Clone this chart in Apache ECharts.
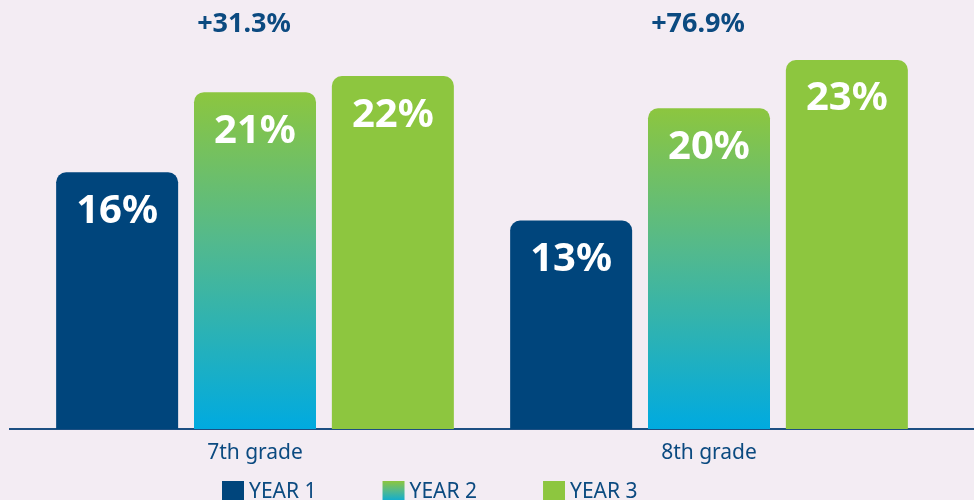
<!DOCTYPE html>
<html>
<head>
<meta charset="utf-8">
<script src="https://cdn.jsdelivr.net/npm/echarts@6/dist/echarts.min.js"></script>
<style>
  html, body { margin: 0; padding: 0; background: #f3ecf3; }
  #main { width: 974px; height: 500px; }
</style>
</head>
<body>
<div id="main"></div>
<script>
    // data
    const grades = ['7th grade', '8th grade'];
    const year1 = [16, 13];
    const year2 = [21, 20];
    const year3 = [22, 23];
    const changeLabels = ['+31.3%', '+76.9%'];
    const changeLevel = [25.2, 25.2];

    const navy = '#00457c';
    const green = '#8dc63f';
    const cyan = '#00aae0';
    const textBlue = '#0b4a80';

    const year2Fill = new echarts.graphic.LinearGradient(0, 0, 0, 1, [
        { offset: 0, color: '#8cc63f' },
        { offset: 0.45, color: '#52b98e' },
        { offset: 1, color: cyan }
    ]);

    const barLabel = {
        show: true,
        position: 'insideTop',
        distance: 19,
        formatter: '{c}%',
        color: '#ffffff',
        fontSize: 40,
        fontWeight: 'bold',
        fontFamily: 'Noto Sans'
    };

    let myChart = echarts.init(document.getElementById('main'));

    let option = {
        backgroundColor: '#f3ecf3',
        animation: false,
        textStyle: { fontFamily: 'Noto Sans' },
        grid: { left: 28, right: 38, top: 28, bottom: 71 },
        legend: {
            top: 481,
            left: 222,
            padding: 0,
            itemWidth: 22,
            itemHeight: 22,
            itemGap: 66,
            icon: 'rect',
            textStyle: { color: textBlue, fontSize: 21, padding: [4, 0, 0, 0] },
            data: ['YEAR 1', 'YEAR 2', 'YEAR 3']
        },
        graphic: [
            {
                type: 'line',
                z: 0,
                shape: { x1: 9, y1: 429, x2: 974, y2: 429 },
                style: { stroke: '#1d4f82', lineWidth: 2 }
            }
        ],
        xAxis: {
            type: 'category',
            data: grades,
            axisLine: { show: true, lineStyle: { color: '#1d4f82', width: 2 } },
            axisTick: { show: false },
            axisLabel: { color: textBlue, fontSize: 21, margin: 14 }
        },
        yAxis: {
            type: 'value',
            min: 0,
            max: 25,
            show: false,
            splitLine: { show: false }
        },
        series: [
            {
                name: 'YEAR 1',
                type: 'bar',
                barWidth: 122,
                barGap: '13%',
                data: year1,
                itemStyle: { color: navy, borderRadius: [10, 10, 0, 0] },
                label: barLabel
            },
            {
                name: 'YEAR 2',
                type: 'bar',
                barWidth: 122,
                barGap: '13%',
                data: year2,
                itemStyle: { color: year2Fill, borderRadius: [10, 10, 0, 0] },
                label: barLabel
            },
            {
                name: 'YEAR 3',
                type: 'bar',
                barWidth: 122,
                barGap: '13%',
                data: year3,
                itemStyle: { color: green, borderRadius: [10, 10, 0, 0] },
                label: barLabel
            },
            {
                name: 'change',
                type: 'scatter',
                symbolSize: 0,
                clip: false,
                silent: true,
                data: changeLevel,
                itemStyle: { opacity: 1 },
                label: {
                    show: true,
                    position: 'inside',
                    offset: [-11, 0],
                    formatter: p => changeLabels[p.dataIndex],
                    color: textBlue,
                    fontSize: 27,
                    fontWeight: 'bold'
                }
            }
        ]
    };

    myChart.setOption(option);
</script>
</body>
</html>
